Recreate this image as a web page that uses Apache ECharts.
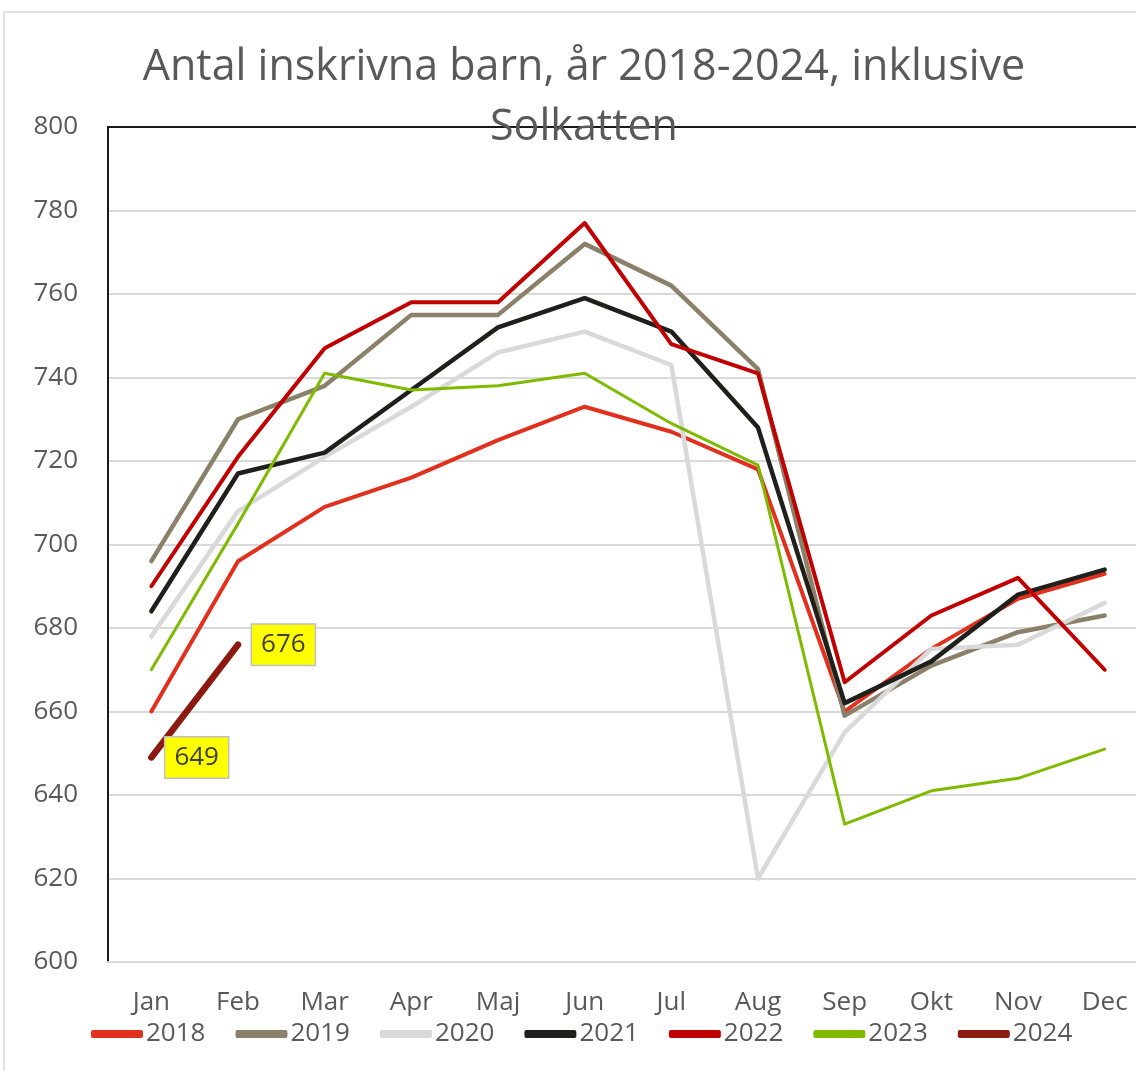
<!DOCTYPE html>
<html>
<head>
<meta charset="utf-8">
<script src="https://cdn.jsdelivr.net/npm/echarts@6/dist/echarts.min.js"></script>
<style>
  html, body { margin: 0; padding: 0; background: #fff; }
  #chart { width: 1136px; height: 1071px; }
</style>
</head>
<body>
<div id="chart"></div>
<script>
const months = ['Jan', 'Feb', 'Mar', 'Apr', 'Maj', 'Jun', 'Jul', 'Aug', 'Sep', 'Okt', 'Nov', 'Dec']
const yearNames = ['2018', '2019', '2020', '2021', '2022', '2023', '2024']
const v2018 = [660, 696, 709, 716, 725, 733, 727, 718, 660, 675, 687, 693]
const v2019 = [696, 730, 738, 755, 755, 772, 762, 742, 659, 671, 679, 683]
const v2020 = [678, 708, 721, 733, 746, 751, 743, 620, 655, 675, 676, 686]
const v2021 = [684, 717, 722, 737, 752, 759, 751, 728, 662, 672, 688, 694]
const v2022 = [690, 721, 747, 758, 758, 777, 748, 741, 667, 683, 692, 670]
const v2023 = [670, 705, 741, 737, 738, 741, 729, 719, 633, 641, 644, 651]
const v2024 = [649, 676]

const yearValues = [v2018, v2019, v2020, v2021, v2022, v2023, v2024]
const colors = ['#e0301e', '#8b8069', '#d9d9d9', '#1f1f1b', '#c00000', '#7fba00', '#8b1a10']
const widths = [4, 4.5, 4.5, 4.5, 4, 3, 6.5]

const font = "'Open Sans', sans-serif"
const textGray = '#595959'

const chart = echarts.init(document.getElementById('chart'))

const series = yearNames.map((name, i) => {
  const s = {
    name: name,
    type: 'line',
    data: yearValues[i],
    symbol: 'circle',
    symbolSize: 0.1,
    showSymbol: true,
    itemStyle: { color: colors[i] },
    lineStyle: { color: colors[i], width: widths[i], cap: 'round', join: 'round' },
    emphasis: { disabled: true }
  }
  if (name === '2024') {
    s.label = {
      show: true,
      position: 'right',
      distance: 14,
      color: '#404040',
      fontFamily: font,
      fontSize: 26,
      backgroundColor: '#ffff00',
      borderColor: '#bfbfbf',
      borderWidth: 1.5,
      padding: [8, 9, 6, 9]
    }
  }
  return s
})

const option = {
  animation: false,
  backgroundColor: '#fff',
  color: colors,
  title: {
    text: 'Antal inskrivna barn, år 2018-2024, inklusive\nSolkatten',
    left: 579,
    top: 33,
    textAlign: 'center',
    textStyle: {
      fontFamily: font,
      fontSize: 43,
      fontWeight: 'normal',
      color: textGray,
      lineHeight: 60
    }
  },
  graphic: [{
    type: 'polyline',
    shape: { points: [[4, 1071], [4, 12], [1136, 12]] },
    style: { stroke: '#d9d9d9', lineWidth: 1.5, fill: null },
    z: -1
  }],
  legend: {
    left: 86,
    top: 1016,
    itemWidth: 52,
    itemHeight: 8,
    itemGap: 30,
    icon: 'roundRect',
    textStyle: { fontFamily: font, fontSize: 26, color: textGray, padding: [0, 0, 0, -2] },
    data: yearNames
  },
  grid: {
    left: 108,
    top: 127,
    width: 1040,
    bottom: 109,
    outerBoundsMode: 'none',
    containLabel: false
  },
  xAxis: [{
    type: 'category',
    data: months,
    boundaryGap: true,
    axisLine: { lineStyle: { color: '#d9d9d9', width: 2 } },
    axisTick: { show: false },
    axisLabel: { fontFamily: font, fontSize: 26, color: textGray, margin: 28 }
  }, {
    type: 'category',
    data: months,
    position: 'top',
    axisLine: { lineStyle: { color: '#1a1a1a', width: 2 } },
    axisTick: { show: false },
    axisLabel: { show: false }
  }],
  yAxis: {
    type: 'value',
    min: 600,
    max: 800,
    interval: 20,
    axisLine: { show: true, lineStyle: { color: '#1a1a1a', width: 2 } },
    axisTick: { show: false },
    axisLabel: { fontFamily: font, fontSize: 26, color: textGray, margin: 30 },
    splitLine: { lineStyle: { color: '#d9d9d9', width: 2 } }
  },
  series: series
}

chart.setOption(option)
</script>
</body>
</html>
